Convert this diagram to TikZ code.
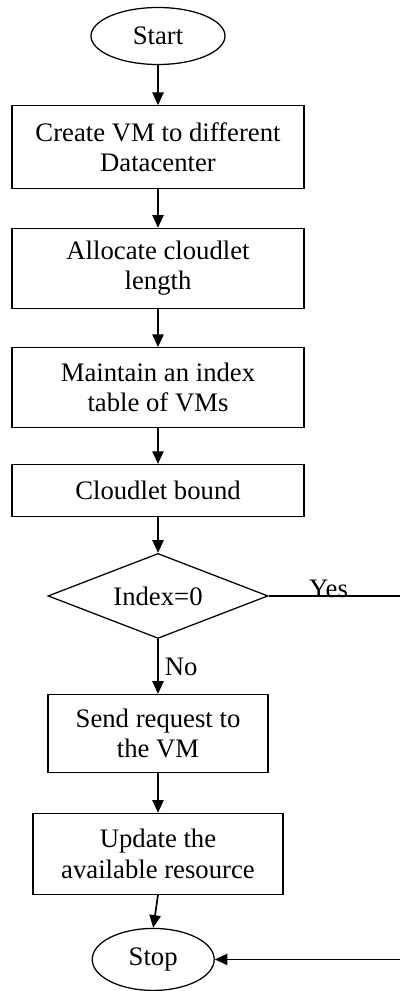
\documentclass[tikz,border=0pt]{standalone}
\usepackage{fontspec}
\setmainfont{Liberation Serif}
\usetikzlibrary{shapes,arrows.meta,positioning}

\begin{document}
\begin{tikzpicture}[every node/.style={font=\fontsize{19}{21.5}\selectfont, align=center},
		proc/.style={rectangle, draw, line width=0.9pt, minimum width=7.3cm, minimum height=2cm, inner sep=2pt},
		term/.style={ellipse, draw, line width=0.9pt, inner sep=0pt},
		arr/.style={line width=1.2pt, -{Triangle[length=9pt, width=8pt]}}]
	\useasboundingbox (0,0) rectangle (10,-24.775);
	\node[term, minimum width=3.35cm, minimum height=1.425cm] (start) at (3.95,-0.9) {Start};
	\node[proc, minimum height=2.075cm, below=1cm of start] (create) {Create VM to different\\Datacenter};
	\node[proc, below=0.96cm of create] (alloc) {Allocate cloudlet\\length};
	\node[proc, below=0.95cm of alloc] (maint) {Maintain an index\\table of VMs};
	\node[proc, minimum height=1.3cm, below=0.89cm of maint] (bound) {Cloudlet bound};
	\node[diamond, draw, line width=0.9pt, aspect=2.6, minimum width=5.5cm, minimum height=2.125cm, inner sep=0pt, below=0.89cm of bound] (idx) {Index=0};
	\node[proc, minimum width=5.5cm, minimum height=1.95cm, below=1.37cm of idx] (send) {Send request to\\the VM};
	\node[proc, minimum width=6.25cm, minimum height=2.025cm, below=0.99cm of send] (upd) {Update the\\available resource};
	\node[term, minimum width=3.05cm, minimum height=1.55cm, below=0.82cm of upd, xshift=-0.12cm] (stop) {Stop};

	\coordinate[right=3.4cm of idx.east] (yesend);
	\coordinate[right=4.75cm of stop.east] (stopend);

	\draw[arr] (start) -- (create);
	\draw[arr] (create) -- (alloc);
	\draw[arr] (alloc) -- (maint);
	\draw[arr] (maint) -- (bound);
	\draw[arr] (bound) -- (idx);
	\draw[arr] (idx) -- node[right=1pt] {No} (send);
	\draw[arr] (send) -- (upd);
	\draw[arr] (upd.south) -- (stop.north);

	% Yes branch leaves the picture on the right
	\draw[line width=0.9pt] (idx.east) -- node[above, inner sep=0pt, pos=0.44, yshift=-2pt] {Yes} (yesend);
	\draw[arr] (stopend) -- (stop.east);
\end{tikzpicture}
\end{document}
